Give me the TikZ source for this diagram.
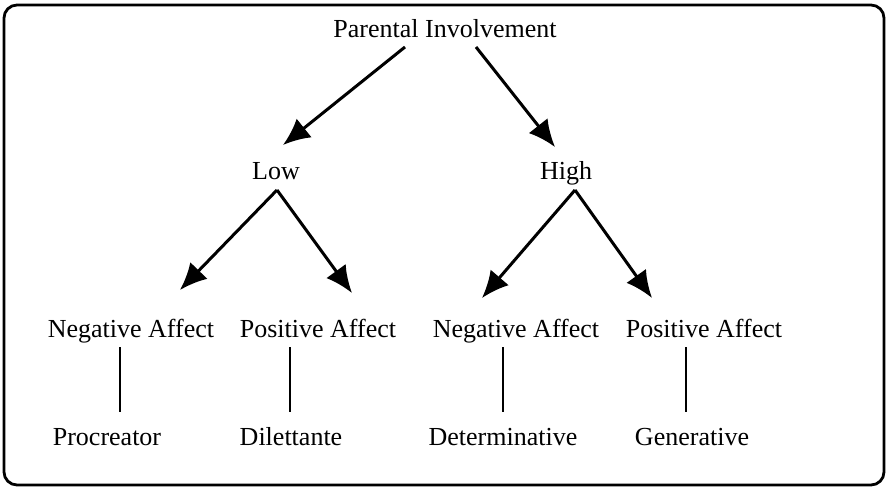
\documentclass[tikz,border=0pt]{standalone}
\usepackage{fontspec}
\setmainfont{Liberation Serif}
\usetikzlibrary{arrows.meta,calc}
\begin{document}
\begin{tikzpicture}[x=1pt,y=-1pt,
  lbl/.style={anchor=base,inner sep=0pt,font=\fontsize{26}{30}\selectfont},
  bigarrow/.style={line width=3pt,-{Latex[length=27pt,width=24pt]}},
  thinline/.style={line width=1.2pt},
  frame/.style={line width=2.8pt,rounded corners=13pt}]
\useasboundingbox (0,0) rectangle (886,489);
\draw[frame] (4,5) rectangle (884,485);
\node[lbl] (pi) at (445,37.5) {Parental Involvement};
\node[lbl] (low) at (276,180) {Low};
\node[lbl] (high) at (566,180) {High};
\node[lbl] (n1) at (131,337) {Negative Affect};
\node[lbl] (p1) at (318,337) {Positive Affect};
\node[lbl] (n2) at (516,337) {Negative Affect};
\node[lbl] (p2) at (704,337) {Positive Affect};
\node[lbl] (r1) at (107,445) {Procreator};
\node[lbl] (r2) at (291,445) {Dilettante};
\node[lbl] (r3) at (503,445) {Determinative};
\node[lbl] (r4) at (692,445) {Generative};
\draw[bigarrow] ($(pi.base)+(-40,9.5)$) -- ($(low.base)+(7,-35)$);
\draw[bigarrow] ($(pi.base)+(31,9.5)$) -- ($(high.base)+(-11,-33)$);
\draw[bigarrow] ($(low.base)+(1,10)$) -- ($(n1.base)+(49,-47)$);
\draw[bigarrow] ($(low.base)+(1,10)$) -- ($(p1.base)+(34,-44)$);
\draw[bigarrow] ($(high.base)+(9,10)$) -- ($(n2.base)+(-34,-39)$);
\draw[bigarrow] ($(high.base)+(9,10)$) -- ($(p2.base)+(-52,-39)$);
\draw[thinline] ($(n1.base)+(-11,10)$) -- ($(r1.base)+(13,-33)$);
\draw[thinline] ($(p1.base)+(-28,10)$) -- ($(r2.base)+(-1,-33)$);
\draw[thinline] ($(n2.base)+(-13,10)$) -- ($(r3.base)+(0,-33)$);
\draw[thinline] ($(p2.base)+(-18,10)$) -- ($(r4.base)+(-6,-33)$);
\end{tikzpicture}
\end{document}
